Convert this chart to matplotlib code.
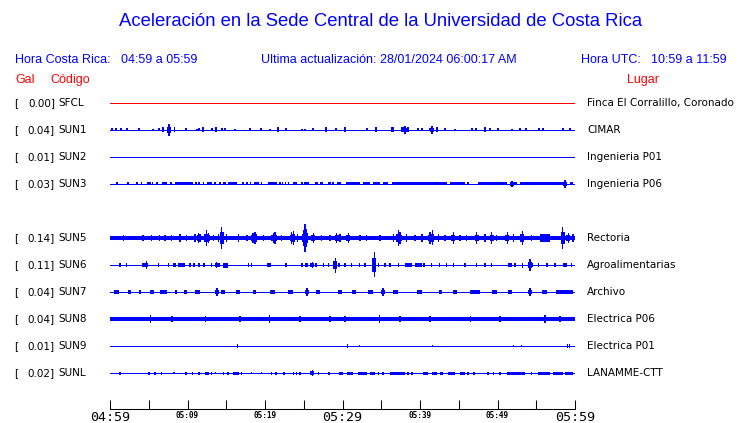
import matplotlib

matplotlib.use("Agg")
import matplotlib.pyplot as plt

W, H = 740, 423

# station rows (row 4 is the empty SUN4 slot)
CODES = ["SFCL", "SUN1", "SUN2", "SUN3", "SUN5", "SUN6", "SUN7", "SUN8", "SUN9", "SUNL"]
ROWS = [0, 1, 2, 3, 5, 6, 7, 8, 9, 10]
PEAK_GAL = [0.00, 0.04, 0.01, 0.03, 0.14, 0.11, 0.04, 0.04, 0.01, 0.02]
PLACES = ["Finca El Corralillo, Coronado", "CIMAR", "Ingenieria P01", "Ingenieria P06",
          "Rectoria", "Agroalimentarias", "Archivo", "Electrica P06", "Electrica P01",
          "LANAMME-CTT"]
# background noise half-amplitude (display units) per station
BASE_AMP = [0, 0, 0, 0, 2.0, 0, 0, 2.0, 0, 0]

# bursts: (start minute, end minute, half-amplitude)
# minutes counted from 04:59; start == end is a single spike
SFCL = []
SUN1 = [(0.26, 0.26, 1.2), (0.77, 0.77, 1.2), (1.42, 1.42, 1.2), (2.19, 2.19, 1.2),
        (3.74, 3.74, 1.2), (5.55, 5.55, 1.0), (6.32, 6.32, 1.2), (6.7, 7.0, 2.0),
        (7.61, 7.61, 4.5), (8.2, 8.4, 2.0), (9.81, 9.81, 1.2), (11.23, 11.23, 1.0),
        (11.48, 11.48, 1.2), (11.9, 12.1, 2.0), (13.16, 13.16, 1.2), (13.6, 13.8, 2.0),
        (14.45, 14.45, 1.2), (14.84, 14.84, 1.2), (16.13, 16.13, 1.0), (18.06, 18.06, 1.2),
        (19.48, 19.48, 1.2), (20.65, 20.65, 1.0), (21.6, 21.8, 2.0), (22.71, 22.71, 1.2),
        (24.77, 24.77, 1.0), (25.16, 25.16, 1.0), (26.19, 26.19, 1.2), (27.8, 28.0, 2.0),
        (29.16, 29.16, 1.2), (30.2, 30.4, 2.0), (33.16, 33.16, 1.2), (34.2, 34.4, 2.0),
        (36.2, 36.6, 2.0), (37.6, 37.9, 2.0), (38.06, 38.06, 3.5), (38.3, 38.6, 2.0),
        (39.74, 39.74, 1.2), (40.26, 40.26, 1.2), (41.29, 41.29, 1.2), (41.55, 41.55, 3.0),
        (42.0, 42.3, 2.0), (43.23, 43.23, 1.2), (44.52, 44.52, 1.0), (46.71, 46.71, 1.2),
        (47.23, 47.23, 1.2), (48.3, 48.5, 2.0), (49.03, 49.03, 1.2), (50.06, 50.06, 1.2),
        (51.87, 51.87, 1.0), (52.9, 52.9, 1.2), (53.68, 53.68, 1.2), (55.35, 55.35, 1.2),
        (55.87, 55.87, 1.2), (58.45, 58.45, 1.2), (59.35, 59.35, 1.2)]
SUN2 = []
SUN3 = [(0.94, 0.94, 1.2), (2.32, 2.32, 1.2), (3.52, 3.52, 1.2), (4.04, 4.04, 1.2),
        (4.94, 4.94, 1.2), (5.16, 5.16, 1.2), (5.46, 5.46, 1.2), (6.03, 6.03, 1.2),
        (6.67, 7.32, 1.2), (7.87, 7.87, 1.2), (8.39, 10.67, 1.2), (11.1, 11.1, 1.2),
        (11.52, 11.52, 1.2), (12.04, 12.04, 1.2), (12.48, 13.12, 1.2), (13.55, 13.55, 1.2),
        (14.19, 14.19, 1.2), (14.62, 14.97, 1.2), (15.26, 16.43, 1.2), (17.2, 17.2, 1.2),
        (17.64, 17.64, 1.2), (18.15, 18.15, 1.2), (18.58, 19.19, 1.2), (19.57, 19.57, 1.2),
        (20.35, 21.51, 1.2), (21.94, 21.94, 1.2), (22.28, 22.28, 1.2), (22.63, 22.63, 1.2),
        (23.01, 23.01, 1.2), (23.65, 24.17, 1.2), (24.74, 24.74, 1.2), (25.03, 25.72, 1.2),
        (26.45, 26.88, 1.2), (27.1, 27.45, 1.2), (28.17, 28.48, 1.2), (28.81, 28.81, 1.2),
        (29.25, 29.77, 1.2), (30.45, 32.26, 1.2), (32.68, 33.55, 1.2), (33.97, 34.84, 1.2),
        (35.26, 35.91, 1.2), (36.35, 43.45, 1.2), (43.87, 45.81, 1.2), (46.23, 46.23, 1.2),
        (47.52, 51.19, 1.2), (51.61, 52.48, 1.2), (51.87, 51.87, 2.5), (52.9, 58.49, 1.2),
        (58.71, 58.71, 3.0), (59.35, 59.78, 1.2)]
SUN5 = [(1.72, 1.72, 2.5), (4.22, 4.22, 2.5), (5.38, 5.38, 2.5), (6.37, 6.37, 2.5),
        (7.1, 7.1, 2.5), (7.96, 7.96, 2.5), (9.03, 9.03, 3.0), (9.89, 9.89, 2.5),
        (10.97, 10.97, 3.0), (11.44, 11.44, 4.0), (11.61, 11.61, 3.0), (12.26, 12.26, 3.5),
        (12.47, 12.47, 6.5), (12.69, 12.69, 4.0), (13.33, 13.33, 2.5), (13.98, 13.98, 3.0),
        (14.41, 14.41, 9.0), (15.05, 15.05, 3.0), (16.56, 16.56, 3.0), (17.64, 17.64, 2.5),
        (18.49, 18.49, 4.0), (18.71, 18.71, 5.0), (18.92, 18.92, 3.5), (19.79, 19.79, 2.5),
        (21.08, 21.08, 4.0), (21.29, 21.29, 4.5), (22.15, 22.15, 2.5), (23.44, 23.44, 4.5),
        (23.66, 23.66, 5.5), (24.17, 24.17, 3.0), (25.03, 25.03, 6.0), (25.16, 25.16, 11.0),
        (25.29, 25.29, 7.0), (26.24, 26.24, 4.0), (27.31, 27.31, 2.5), (28.39, 28.39, 2.5),
        (29.25, 29.25, 4.0), (29.68, 29.68, 3.5), (30.75, 30.75, 4.0), (32.26, 32.26, 2.5),
        (33.12, 33.12, 2.5), (34.84, 34.84, 2.5), (36.56, 36.56, 3.0), (37.2, 37.2, 6.5),
        (37.42, 37.42, 5.0), (38.28, 38.28, 3.0), (39.35, 39.35, 2.5), (40.22, 40.22, 3.0),
        (41.29, 41.29, 5.0), (41.59, 41.59, 6.0), (42.37, 42.37, 3.0), (43.23, 43.23, 2.5),
        (44.3, 44.3, 5.0), (45.16, 45.16, 2.5), (46.02, 46.02, 2.5), (47.31, 47.31, 5.0),
        (48.39, 48.39, 3.0), (49.25, 49.25, 4.5), (49.89, 49.89, 2.5), (51.27, 51.27, 5.0),
        (52.04, 52.04, 3.0), (53.2, 53.2, 5.5), (54.41, 54.41, 2.5), (55.48, 56.77, 3.0),
        (58.41, 58.41, 9.0), (59.14, 59.14, 4.0), (59.78, 59.78, 3.0)]
SUN6 = [(1.29, 1.29, 1.5), (2.06, 2.24, 1.5), (4.22, 4.22, 1.5), (4.69, 4.69, 3.0),
        (6.24, 6.24, 1.5), (7.53, 7.53, 1.5), (8.17, 8.52, 1.5), (8.82, 9.68, 1.5),
        (10.32, 10.32, 1.5), (10.84, 10.84, 1.5), (11.48, 11.48, 1.5), (12.04, 12.26, 1.5),
        (13.12, 13.12, 1.5), (13.76, 13.76, 2.5), (14.06, 14.06, 1.5), (14.62, 15.26, 2.0),
        (17.85, 17.85, 1.5), (18.28, 18.28, 1.5), (20.22, 20.73, 1.5), (22.58, 22.8, 1.5),
        (24.65, 24.86, 1.5), (25.16, 25.59, 1.5), (26.11, 26.11, 2.5), (26.58, 26.58, 1.5),
        (27.53, 27.53, 1.5), (28.17, 28.17, 1.5), (29.08, 29.08, 6.0), (29.51, 29.51, 1.5),
        (30.32, 30.32, 1.5), (31.18, 31.18, 1.5), (32.21, 32.21, 1.5), (32.9, 32.9, 1.5),
        (34.11, 34.11, 10.0), (34.62, 34.62, 1.5), (35.48, 35.48, 1.5), (36.13, 36.13, 1.5),
        (37.2, 37.2, 1.5), (38.06, 38.93, 1.5), (39.35, 40.22, 1.5), (40.52, 40.52, 1.5),
        (41.5, 41.5, 1.5), (42.5, 42.5, 1.5), (43.44, 43.44, 1.5), (44.3, 44.3, 1.5),
        (45.81, 45.81, 1.5), (47.31, 47.31, 1.5), (48.39, 48.39, 1.5), (49.25, 49.25, 1.5),
        (51.4, 51.83, 1.5), (52.26, 52.26, 1.5), (53.2, 53.2, 2.0), (54.19, 54.19, 4.5),
        (54.54, 54.54, 1.5), (55.27, 55.27, 1.5), (56.35, 56.35, 1.5), (57.42, 57.42, 1.5),
        (58.49, 58.93, 1.5), (59.57, 59.57, 1.5)]
SUN7 = [(0.5, 1.2, 1.5), (2.3, 2.7, 1.5), (3.9, 3.9, 1.5), (5.2, 5.7, 1.5), (6.4, 7.3, 1.5),
        (8.4, 8.6, 1.5), (9.5, 9.9, 1.5), (11.0, 11.6, 1.5), (13.8, 13.8, 3.0),
        (14.3, 14.8, 1.5), (16.2, 16.8, 1.5), (18.4, 18.9, 1.5), (20.6, 21.3, 1.5),
        (23.0, 23.6, 1.5), (25.4, 25.4, 3.0), (26.6, 27.1, 1.5), (29.4, 29.9, 1.5),
        (31.2, 31.8, 1.5), (33.3, 33.9, 1.5), (35.2, 35.2, 3.0), (36.5, 37.2, 1.5),
        (39.6, 40.2, 1.5), (42.4, 42.9, 1.5), (44.2, 44.8, 1.5), (46.5, 47.8, 1.5),
        (49.3, 49.9, 1.5), (51.4, 51.9, 1.5), (54.2, 54.2, 3.0), (55.8, 56.4, 1.5),
        (57.5, 59.8, 1.5)]
SUN8 = [(5.2, 5.2, 3.0), (8.0, 8.0, 2.5), (12.3, 12.3, 2.5), (16.8, 16.8, 2.5),
        (20.6, 20.6, 3.5), (24.5, 24.5, 2.5), (28.4, 28.4, 2.5), (30.3, 30.3, 2.5),
        (34.8, 34.8, 3.0), (37.4, 37.4, 2.5), (41.3, 41.3, 2.5), (46.5, 46.5, 2.5),
        (50.3, 50.3, 2.5), (56.1, 56.1, 3.0), (58.1, 58.1, 2.5)]
SUN9 = [(16.43, 16.43, 1.3), (30.62, 30.62, 1.3), (32.17, 32.17, 1.0), (41.59, 41.59, 1.0),
        (52.04, 52.04, 1.0), (53.12, 53.12, 1.0), (59.01, 59.01, 1.3), (59.27, 59.27, 1.3)]
SUNL = [(1.2, 1.38, 1.2), (5.03, 5.03, 1.2), (5.81, 5.81, 1.2), (6.67, 6.67, 1.2),
        (8.26, 8.26, 1.0), (9.68, 9.97, 1.2), (10.54, 10.75, 1.2), (11.52, 11.52, 1.2),
        (12.3, 12.74, 1.2), (13.12, 13.12, 1.2), (13.59, 13.59, 1.0), (14.54, 14.75, 1.2),
        (15.26, 15.26, 1.2), (15.91, 16.69, 1.2), (16.99, 16.99, 1.2), (18.28, 18.28, 1.0),
        (19.57, 19.57, 1.0), (20.86, 20.86, 1.2), (21.29, 21.59, 1.2), (22.36, 22.62, 1.2),
        (23.66, 23.66, 1.2), (24.09, 24.09, 1.2), (24.52, 24.52, 1.2), (25.9, 26.24, 1.2),
        (26.11, 26.11, 2.5), (26.88, 26.88, 1.2), (28.17, 28.39, 1.2), (29.51, 30.02, 1.2),
        (30.62, 31.4, 1.2), (32.04, 33.12, 1.2), (33.55, 34.19, 1.2), (34.62, 34.62, 1.2),
        (35.26, 35.26, 1.2), (36.13, 38.06, 1.2), (38.49, 38.49, 1.2), (38.93, 38.93, 1.2),
        (40.43, 41.07, 1.2), (41.5, 42.15, 1.2), (42.58, 43.01, 1.2), (43.65, 44.52, 1.2),
        (45.16, 45.81, 1.2), (46.23, 46.23, 1.2), (46.88, 47.1, 1.2), (48.81, 48.81, 1.2),
        (49.46, 49.46, 1.2), (50.32, 50.32, 1.2), (51.19, 53.55, 1.2), (54.41, 54.41, 1.2),
        (55.27, 56.77, 1.2), (57.2, 58.49, 1.2), (58.71, 59.7, 1.2)]
BURSTS = [SFCL, SUN1, SUN2, SUN3, SUN5, SUN6, SUN7, SUN8, SUN9, SUNL]
COLORS = ["#ff0000"] + ["#0000ff"] * 9

TICK_MIN = list(range(0, 61, 5))
TICK_LABELS = ["04:59", "", "05:09", "", "05:19", "", "05:29", "", "05:39", "", "05:49", "",
               "05:59"]
BIG_LABELS = {"04:59", "05:29", "05:59"}

BLUE = "#0000ff"
RED = "#ff0000"
ROW_PX = 27.0          # pixels between traces
PX_MIN = 60.0 / 465.0  # one pixel in minutes
GAIN = 1.25            # display gain applied to burst amplitudes


def px(x, y):
    return x / W, 1 - y / H


fig = plt.figure(figsize=(W / 100, H / 100), dpi=100)
ax = fig.add_axes([110 / W, (H - 409) / H, 465 / W, (409 - 90) / H])
ax.set_xlim(0, 60)
ax.set_ylim((409 - 103) / ROW_PX, (90 - 103) / ROW_PX)

for row, color, base, bursts in zip(ROWS, COLORS, BASE_AMP, BURSTS):
    ax.plot([0, 60], [row, row], color=color, lw=0.72, antialiased=False,
            solid_capstyle="butt")
    if base:
        b = base / ROW_PX
        ax.fill_between([0, 60], row - b, row + b, color=color, lw=0, antialiased=False)
    for t0, t1, amp in bursts:
        a = GAIN * amp / ROW_PX
        if t1 > t0:
            ax.bar(t0, 2 * a, width=t1 - t0, bottom=row - a, align="edge",
                   color=color, lw=0, antialiased=False)
        else:
            ax.bar(t0, 2 * a, width=PX_MIN * 1.6, bottom=row - a, color=color, lw=0,
                   antialiased=False)
            if amp > 2.2:
                s = 0.55 * a
                ax.bar(t0, 2 * s, width=PX_MIN * 4, bottom=row - s, color=color, lw=0,
                       antialiased=False)

for side in ("top", "left", "right"):
    ax.spines[side].set_visible(False)
ax.spines["bottom"].set_linewidth(0.75)
ax.set_yticks([])
ax.set_xticks(TICK_MIN, TICK_LABELS)
ax.tick_params(axis="x", direction="in", length=6.5, width=0.75, pad=1.5)
for lab in ax.get_xticklabels():
    lab.set_fontfamily("DejaVu Sans Mono")
    if lab.get_text() in BIG_LABELS:
        lab.set_fontsize(9.6)
    else:
        lab.set_fontsize(5.6)
        lab.set_fontweight("bold")

# station labels
for row, gal, code, place in zip(ROWS, PEAK_GAL, CODES, PLACES):
    y = 103 + row * ROW_PX
    fig.text(*px(14, y), "[", fontsize=7.5, va="center", ha="left")
    fig.text(*px(55, y), f"{gal:.2f}]", fontsize=7.5, va="center", ha="right")
    fig.text(*px(58, y), code, fontsize=7.5, va="center", ha="left")
    fig.text(*px(587, y), place, fontsize=7.5, va="center", ha="left")

# header
hdr = dict(fontfamily="Liberation Sans", fontsize=9, va="center")
fig.text(*px(381, 22), "Aceleración en la Sede Central de la Universidad de Costa Rica",
         fontfamily="Liberation Sans", fontsize=13.3, color=BLUE, ha="center", va="center")
fig.text(*px(15, 60), "Hora Costa Rica:", color=BLUE, ha="left", **hdr)
fig.text(*px(121, 60), "04:59 a 05:59", color=BLUE, ha="left", **hdr)
fig.text(*px(261, 60), "Ultima actualización:", color=BLUE, ha="left", **hdr)
fig.text(*px(380, 60), "28/01/2024 06:00:17 AM", color=BLUE, ha="left", **hdr)
fig.text(*px(581, 60), "Hora UTC:", color=BLUE, ha="left", **hdr)
fig.text(*px(651, 60), "10:59 a 11:59", color=BLUE, ha="left", **hdr)
fig.text(*px(15, 80), "Gal", color=RED, ha="left", **hdr)
fig.text(*px(50, 80), "Código", color=RED, ha="left", **hdr)
fig.text(*px(627, 80), "Lugar", color=RED, ha="left", **hdr)

fig.savefig("out.png", dpi=100)
